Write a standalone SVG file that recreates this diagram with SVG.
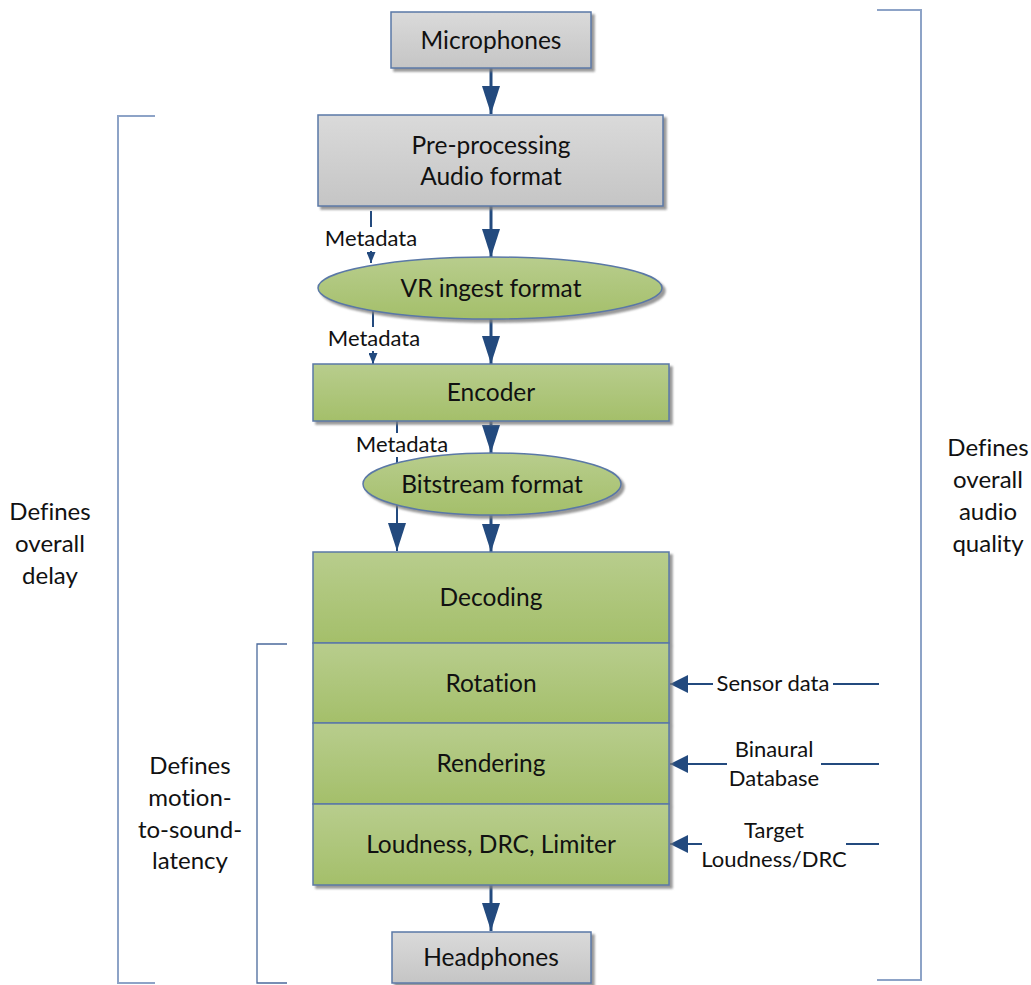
<svg xmlns="http://www.w3.org/2000/svg" width="1031" height="985" viewBox="0 0 1031 985">
<style>
text{font-family:Lato,"Liberation Sans",sans-serif;fill:#111;text-anchor:middle;font-variant-ligatures:none}
.t{font-size:24.5px}
.s{font-size:22px}
.side{font-size:24px}
.gray{fill:url(#gGray);stroke:#5a78a6;stroke-width:1.5}
.green{fill:url(#gGreen);stroke:#5a78a6;stroke-width:1.5}
.main{stroke:#234a7e;stroke-width:3;fill:none}
.meta{stroke:#234a7e;stroke-width:2;fill:none}
.br{stroke:#8da3c7;stroke-width:2;fill:none}
.br2{stroke:#4b6a9c;stroke-width:1.3;fill:none}
.bg{fill:#fff}
</style>
<defs>
<linearGradient id="gGray" x1="0" y1="0" x2="0" y2="1"><stop offset="0" stop-color="#dadada"/><stop offset="1" stop-color="#c5c5c5"/></linearGradient>
<linearGradient id="gGreen" x1="0" y1="0" x2="0" y2="1"><stop offset="0" stop-color="#b8cd8d"/><stop offset="1" stop-color="#a4bf6a"/></linearGradient>
<filter id="sh" x="-10%" y="-10%" width="130%" height="140%"><feDropShadow dx="3" dy="3" stdDeviation="1" flood-color="#7f7f7f" flood-opacity="0.8"/></filter>
<marker id="aMain" viewBox="0 0 28 18" refX="28" refY="9" markerWidth="28" markerHeight="18" markerUnits="userSpaceOnUse" orient="auto"><path d="M0,0 L28,9 L0,18 Z" fill="#234a7e"/></marker>
<marker id="aSmall" viewBox="0 0 11 9" refX="11" refY="4.5" markerWidth="11" markerHeight="9" markerUnits="userSpaceOnUse" orient="auto"><path d="M0,0 L11,4.5 L0,9 Z" fill="#234a7e"/></marker>
<marker id="aSide" viewBox="0 0 18 18" refX="18" refY="9" markerWidth="18" markerHeight="18" markerUnits="userSpaceOnUse" orient="auto"><path d="M0,0 L18,9 L0,18 Z" fill="#234a7e"/></marker>
</defs>
<rect width="1031" height="985" fill="#fff"/>

<g id="brackets">
<path class="br" d="M155,116 H118 V983 H155"/>
<path class="br" d="M877,10 H921 V980 H877"/>
<path class="br2" d="M287,644 H257 V983 H287"/>
</g>

<g id="connectors">
<line class="main" x1="491" y1="68" x2="491" y2="114" marker-end="url(#aMain)"/>
<line class="main" x1="491" y1="206" x2="491" y2="257" marker-end="url(#aMain)"/>
<line class="main" x1="491" y1="319" x2="491" y2="364" marker-end="url(#aMain)"/>
<line class="main" x1="491" y1="421" x2="491" y2="453" marker-end="url(#aMain)"/>
<line class="main" x1="491" y1="515" x2="491" y2="552" marker-end="url(#aMain)"/>
<line class="main" x1="491" y1="885" x2="491" y2="931" marker-end="url(#aMain)"/>
<line class="meta" x1="371" y1="211" x2="371" y2="263" marker-end="url(#aSmall)"/>
<line class="meta" x1="373" y1="311" x2="373" y2="364" marker-end="url(#aSmall)"/>
<line class="meta" x1="397" y1="421" x2="397" y2="551" marker-end="url(#aMain)"/>
<line class="meta" x1="879" y1="684" x2="670" y2="684" marker-end="url(#aSide)"/>
<line class="meta" x1="879" y1="764" x2="670" y2="764" marker-end="url(#aSide)"/>
<line class="meta" x1="879" y1="844" x2="670" y2="844" marker-end="url(#aSide)"/>
<rect class="bg" x="320" y="227" width="102" height="24"/>
<text class="s" x="371" y="246">Metadata</text>
<rect class="bg" x="323" y="327" width="102" height="24"/>
<text class="s" x="374" y="346">Metadata</text>
<rect class="bg" x="351" y="433" width="102" height="24"/>
<text class="s" x="402" y="452">Metadata</text>
<rect class="bg" x="713" y="671" width="120" height="25"/>
<text class="s" x="773" y="691">Sensor data</text>
<rect class="bg" x="727" y="736" width="94" height="52"/>
<text class="s" x="774" y="757">Binaural</text>
<text class="s" x="774" y="786">Database</text>
<rect class="bg" x="702" y="817" width="144" height="54"/>
<text class="s" x="774" y="838">Target</text>
<text class="s" x="774" y="867">Loudness/DRC</text>
</g>

<g id="microphones">
<rect class="gray" x="391" y="12" width="200" height="56" filter="url(#sh)"/>
<text class="t" x="491" y="49">Microphones</text>
</g>
<g id="preprocessing">
<rect class="gray" x="318" y="115" width="345" height="91" filter="url(#sh)"/>
<text class="t" x="491" y="154">Pre-processing</text>
<text class="t" x="491" y="185">Audio format</text>
</g>
<g id="vr-ingest">
<ellipse cx="490" cy="288" rx="172" ry="31" class="green" filter="url(#sh)"/>
<text class="t" x="491" y="297">VR ingest format</text>
</g>
<g id="encoder">
<rect class="green" x="313" y="364" width="356" height="57" filter="url(#sh)"/>
<text class="t" x="491" y="401">Encoder</text>
</g>
<g id="bitstream">
<ellipse cx="492" cy="484" rx="129" ry="31" class="green" filter="url(#sh)"/>
<text class="t" x="492" y="493">Bitstream format</text>
</g>
<g id="stack" filter="url(#sh)">
<rect class="green" x="313" y="552" width="356" height="91"/>
<rect class="green" x="313" y="643" width="356" height="80"/>
<rect class="green" x="313" y="723" width="356" height="81"/>
<rect class="green" x="313" y="804" width="356" height="81"/>
</g>
<g id="decoding"><text class="t" x="491" y="606">Decoding</text></g>
<g id="rotation"><text class="t" x="491" y="692">Rotation</text></g>
<g id="rendering"><text class="t" x="491" y="772">Rendering</text></g>
<g id="loudness"><text class="t" x="491" y="853">Loudness, DRC, Limiter</text></g>
<g id="headphones">
<rect class="gray" x="392" y="932" width="199" height="51" filter="url(#sh)"/>
<text class="t" x="491" y="966">Headphones</text>
</g>

<g id="labels">
<text class="side" x="50" y="520">Defines</text>
<text class="side" x="50" y="552">overall</text>
<text class="side" x="50" y="584">delay</text>
<text class="side" x="190" y="774">Defines</text>
<text class="side" x="190" y="806">motion-</text>
<text class="side" x="190" y="838">to-sound-</text>
<text class="side" x="190" y="869">latency</text>
<text class="side" x="988" y="456">Defines</text>
<text class="side" x="988" y="488">overall</text>
<text class="side" x="988" y="520">audio</text>
<text class="side" x="988" y="552">quality</text>
</g>
</svg>
